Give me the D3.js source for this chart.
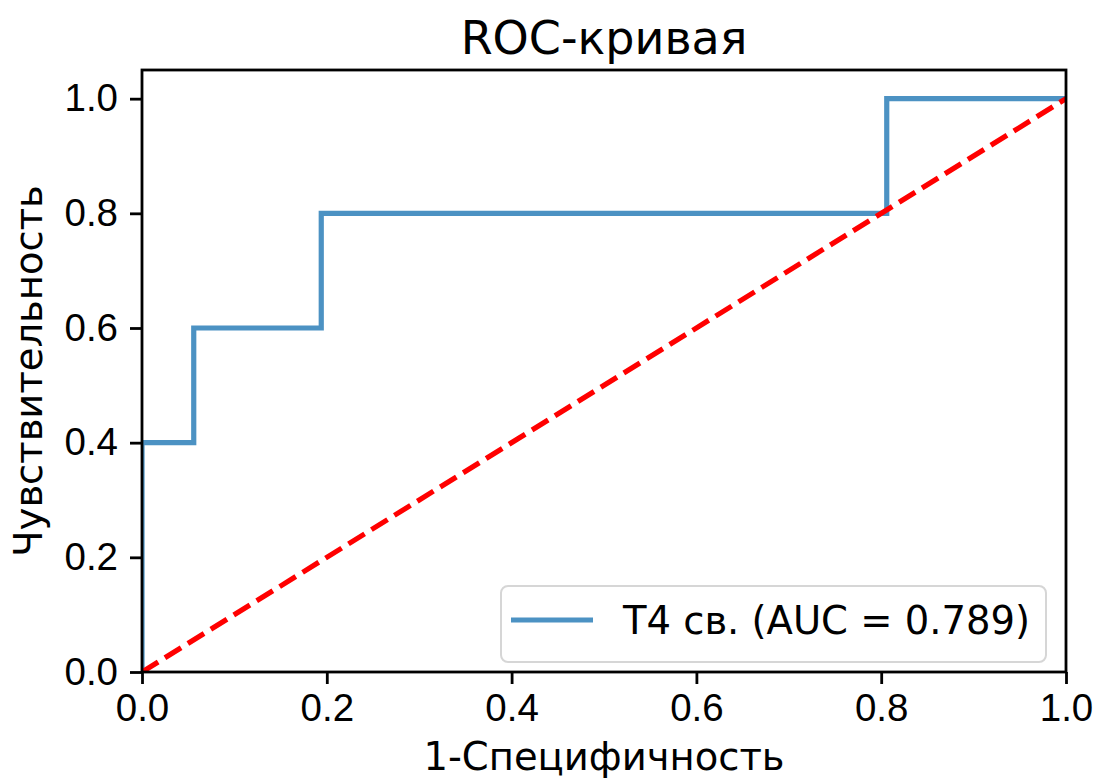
<!DOCTYPE html>
<html>
<head>
<meta charset="utf-8">
<script src="https://cdn.jsdelivr.net/npm/d3@7"></script>
<style>
  body { margin: 0; background: #fff; }
  svg { display: block; font-family: "DejaVu Sans", sans-serif; }
  .axis text { font-size: 38.5px; fill: #000; }
  .axis path, .axis line { stroke: #000; stroke-width: 2.8; }
</style>
</head>
<body>
<svg id="chart"></svg>
<script>
// ROC curve points (1 - specificity, sensitivity)
const fpr = [0, 0, 0.056, 0.056, 0.194, 0.194, 0.806, 0.806, 1];
const tpr = [0, 0.4, 0.4, 0.6, 0.6, 0.8, 0.8, 1, 1];
// chance line
const diagX = [0, 1];
const diagY = [0, 1];
const tickValues = [0, 0.2, 0.4, 0.6, 0.8, 1.0];
const titleText = 'ROC-кривая';
const xLabel = '1-Специфичность';
const yLabel = 'Чувствительность';
const legendLabel = 'T4 св. (AUC = 0.789)';

class RocChart {

  constructor(_config) {
    this.config = {
      parentElement: _config.parentElement,
      containerWidth: _config.containerWidth || 1099,
      containerHeight: _config.containerHeight || 780,
      margin: _config.margin || {top: 70, right: 33, bottom: 108, left: 142}
    }
    this.initVis();
  }

  initVis() {
    let vis = this;

    vis.width = vis.config.containerWidth - vis.config.margin.left - vis.config.margin.right;
    vis.height = vis.config.containerHeight - vis.config.margin.top - vis.config.margin.bottom;

    vis.xScale = d3.scaleLinear()
        .domain([0, 1])
        .range([0, vis.width]);

    vis.yScale = d3.scaleLinear()
        .domain([0, 1.05])
        .range([vis.height, 0]);

    vis.xAxis = d3.axisBottom(vis.xScale)
        .tickValues(tickValues)
        .tickSize(12)
        .tickPadding(10)
        .tickFormat(d3.format('.1f'));

    vis.yAxis = d3.axisLeft(vis.yScale)
        .tickValues(tickValues)
        .tickSize(12)
        .tickPadding(12)
        .tickFormat(d3.format('.1f'));

    vis.svg = d3.select(vis.config.parentElement)
        .attr('width', vis.config.containerWidth)
        .attr('height', vis.config.containerHeight);

    vis.svg.append('clipPath')
        .attr('id', 'plot-clip')
      .append('rect')
        .attr('width', vis.width)
        .attr('height', vis.height);

    vis.chart = vis.svg.append('g')
        .attr('transform', `translate(${vis.config.margin.left},${vis.config.margin.top})`);

    vis.svg.append('text')
        .attr('x', vis.config.margin.left + vis.width / 2)
        .attr('y', 54)
        .attr('text-anchor', 'middle')
        .style('font-size', '46px')
        .text(titleText);

    vis.svg.append('text')
        .attr('x', vis.config.margin.left + vis.width / 2)
        .attr('y', 770)
        .attr('text-anchor', 'middle')
        .style('font-size', '38.5px')
        .text(xLabel);

    vis.svg.append('text')
        .attr('transform', `translate(42,${vis.config.margin.top + vis.height / 2}) rotate(-90)`)
        .attr('text-anchor', 'middle')
        .style('font-size', '38.5px')
        .text(yLabel);
  }

  renderVis() {
    let vis = this;

    const line = d3.line()
        .x(d => vis.xScale(d[0]))
        .y(d => vis.yScale(d[1]));

    const plot = vis.chart.append('g')
        .attr('clip-path', 'url(#plot-clip)');

    plot.append('path')
        .datum(d3.zip(fpr, tpr))
        .attr('d', line)
        .attr('fill', 'none')
        .attr('stroke', '#1f77b4')
        .attr('stroke-opacity', 0.8)
        .attr('stroke-width', 5.2)
        .attr('stroke-linejoin', 'miter');

    plot.append('path')
        .datum(d3.zip(diagX, diagY))
        .attr('d', line)
        .attr('fill', 'none')
        .attr('stroke', '#ff0000')
        .attr('stroke-width', 5.2)
        .attr('stroke-dasharray', '19,8');

    // frame (spines) on top of the lines
    vis.chart.append('rect')
        .attr('width', vis.width)
        .attr('height', vis.height)
        .attr('fill', 'none')
        .attr('stroke', '#000')
        .attr('stroke-width', 2.8);

    vis.chart.append('g')
        .attr('class', 'axis x-axis')
        .attr('transform', `translate(0,${vis.height})`)
        .call(vis.xAxis)
        .call(g => g.select('.domain').remove());

    vis.chart.append('g')
        .attr('class', 'axis y-axis')
        .call(vis.yAxis)
        .call(g => g.select('.domain').remove());

    // legend
    const lg = vis.svg.append('g')
        .attr('transform', 'translate(501,586)');

    lg.append('rect')
        .attr('width', 545)
        .attr('height', 76)
        .attr('rx', 7)
        .attr('fill', '#fff')
        .attr('fill-opacity', 0.8)
        .attr('stroke', '#d6d6d6')
        .attr('stroke-width', 2);

    lg.append('line')
        .attr('x1', 10)
        .attr('x2', 92)
        .attr('y1', 34)
        .attr('y2', 34)
        .attr('stroke', '#1f77b4')
        .attr('stroke-opacity', 0.8)
        .attr('stroke-width', 5.2);

    lg.append('text')
        .attr('x', 122)
        .attr('y', 48)
        .style('font-size', '38.5px')
        .text(legendLabel);
  }
}

const chart = new RocChart({parentElement: '#chart'});
chart.renderVis();
</script>
</body>
</html>
